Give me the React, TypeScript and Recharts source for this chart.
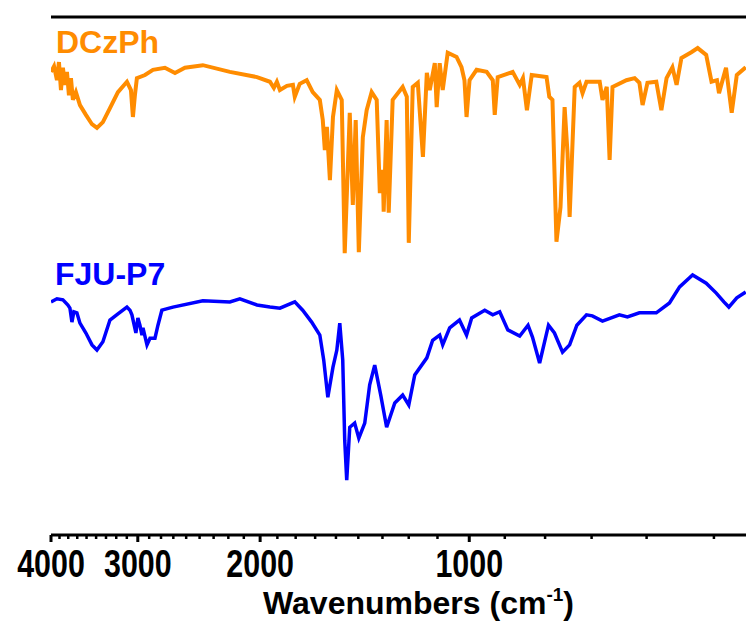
import { LineChart, Line, XAxis, YAxis, ReferenceLine } from "recharts"

// DCzPh spectrum (wavenumber in cm-1, transmittance in a.u.)
const dczphWavenumbers = [
    4000, 3960, 3922, 3896, 3870, 3845, 3820, 3794, 3769, 3744, 3720, 3683, 3634, 3563, 3492, 3435,
    3368, 3290, 3204, 3110, 3069, 3049, 3029, 3009, 2929, 2853, 2742, 2652, 2566, 2418, 2211, 2021,
    1936, 1911, 1892, 1873, 1830, 1794, 1783, 1754, 1714, 1680, 1641, 1625, 1614, 1603, 1587, 1571,
    1551, 1526, 1511, 1486, 1471, 1457, 1442, 1423, 1405, 1382, 1359, 1345, 1332, 1328, 1315, 1306,
    1289, 1247, 1230, 1222, 1206, 1186, 1166, 1151, 1140, 1121, 1114, 1103, 1092, 1074, 1043, 1026,
    1016, 1009, 999, 976, 944, 925, 919, 910, 866, 846, 837, 826, 813, 774, 767, 759,
    749, 739, 729, 722, 717, 705, 694, 687, 678, 649, 643, 634, 628, 622, 594, 578,
    569, 563, 554, 538, 529, 520, 510, 503, 495, 479, 469, 456, 448, 440, 437, 427,
    419, 412, 400,
]
const dczphValues = [
    89.4, 90.5, 87.8, 91.3, 85.9, 90.2, 86.9, 89.4, 84.9, 88.2, 84.0, 85.5, 83.0, 81.1, 79.3, 78.6,
    79.7, 82.4, 85.5, 87.5, 85.9, 80.7, 84.9, 88.2, 88.8, 89.8, 90.2, 89.2, 90.2, 90.7, 89.4, 88.4,
    87.5, 86.3, 87.5, 85.9, 86.7, 86.9, 84.6, 87.1, 87.8, 85.5, 84.0, 80.1, 74.3, 78.8, 68.5, 80.7,
    85.9, 84.0, 54.4, 81.5, 63.7, 80.1, 54.6, 76.8, 82.0, 85.5, 84.0, 66.0, 70.5, 62.4, 80.1, 62.2,
    84.0, 86.5, 84.6, 56.4, 86.5, 87.3, 73.0, 89.2, 85.9, 91.1, 82.6, 91.1, 85.9, 93.1, 92.3, 90.3,
    87.8, 80.7, 87.8, 89.8, 89.4, 87.8, 81.1, 88.4, 89.4, 86.9, 88.2, 82.0, 88.8, 88.4, 84.6, 84.0,
    56.6, 63.3, 82.6, 73.7, 61.4, 86.5, 87.3, 85.3, 87.5, 87.5, 84.0, 86.5, 72.4, 86.5, 87.8, 88.2,
    87.3, 83.0, 87.3, 87.5, 82.0, 88.2, 90.3, 86.9, 92.1, 93.2, 94.0, 92.7, 87.5, 87.8, 85.3, 90.2,
    81.5, 88.8, 90.3,
]

// FJU-P7 spectrum
const fjuWavenumbers = [
    4000, 3922, 3845, 3782, 3757, 3732, 3708, 3671, 3634, 3563, 3492, 3435, 3368, 3290, 3204, 3110,
    3079, 3059, 3019, 2999, 2979, 2959, 2949, 2910, 2881, 2834, 2806, 2770, 2670, 2418, 2211, 2139,
    2021, 1936, 1873, 1783, 1737, 1686, 1641, 1620, 1598, 1571, 1551, 1536, 1521, 1511, 1501, 1486,
    1462, 1442, 1414, 1391, 1368, 1341, 1315, 1280, 1247, 1222, 1198, 1151, 1129, 1103, 1092, 1067,
    1033, 1009, 992, 950, 925, 904, 880, 846, 823, 811, 792, 769, 754, 734, 717, 700,
    678, 665, 643, 608, 592, 569, 538, 515, 498, 477, 456, 441, 430, 423, 412, 400,
]
const fjuValues = [
    45.0, 45.6, 45.4, 44.4, 43.8, 41.1, 43.1, 42.9, 40.9, 39.0, 36.7, 35.7, 37.3, 41.5, 42.7, 44.0,
    43.4, 42.5, 39.0, 41.9, 40.5, 38.6, 40.0, 36.7, 38.0, 38.0, 40.5, 43.4, 44.0, 45.2, 45.0, 45.6,
    44.4, 44.0, 43.8, 45.0, 43.4, 41.1, 38.6, 33.8, 26.6, 32.4, 35.7, 40.9, 33.8, 18.3, 10.6, 20.8,
    21.6, 18.7, 21.6, 29.0, 32.8, 27.0, 20.8, 25.5, 27.0, 25.1, 30.9, 34.2, 37.6, 38.6, 36.7, 40.0,
    41.5, 38.6, 41.9, 43.4, 42.5, 43.1, 39.6, 38.4, 40.5, 38.2, 33.2, 40.5, 39.0, 35.3, 36.7, 40.5,
    42.5, 42.3, 41.3, 42.5, 42.1, 42.9, 42.9, 44.8, 47.9, 50.2, 48.6, 46.7, 45.0, 44.0, 45.8, 46.9,
]

const majorTicks = [4000, 3000, 2000, 1000]
// 8 minor ticks between each pair of majors (1000/9 step)
const minorTicks = Array.from({ length: 32 }, (_, i) => i + 1)
    .filter((k) => k % 9 !== 0)
    .map((k) => 4000 - (k * 1000) / 9)

const dczph = dczphWavenumbers.map((wn, i) => ({ wn, t: dczphValues[i] }))
const fju = fjuWavenumbers.map((wn, i) => ({ wn, t: fjuValues[i] }))

const FONT = "'Liberation Sans', Arial, sans-serif"

function WaveTick({ x, y, payload }: any) {
    const major = majorTicks.includes(payload.value)
    return (
        <g>
            <line
                x1={x}
                x2={x}
                y1={y}
                y2={y + (major ? 7 : 4)}
                stroke="#000"
                strokeWidth={major ? 3 : 2.5}
            />
            {major && (
                // condensed bold digits like the original
                <text
                    transform={`translate(${x},${y + 42}) scale(0.78,1)`}
                    textAnchor="middle"
                    fontFamily={FONT}
                    fontSize={39}
                    fontWeight="bold"
                    fill="#000"
                >
                    {payload.value}
                </text>
            )}
        </g>
    )
}

function AxisTitle({ viewBox }: any) {
    const { x, y, width } = viewBox
    return (
        <text
            x={x + width / 2}
            y={y + 79}
            textAnchor="middle"
            fontFamily={FONT}
            fontSize={32}
            fontWeight="bold"
            fill="#000"
        >
            Wavenumbers (cm
            <tspan fontSize={19} dy={-13}>
                -1
            </tspan>
            <tspan dy={13}>)</tspan>
        </text>
    )
}

export default function App() {
    return (
        <div
            style={{
                position: "fixed",
                left: 0,
                top: 0,
                width: 746,
                height: 624,
                overflow: "hidden",
                background: "#fff",
                fontFamily: FONT,
            }}
        >
            <LineChart width={791} height={624} margin={{ top: 17, right: 5, bottom: 0, left: 51 }}>
                <XAxis
                    dataKey="wn"
                    type="number"
                    scale="log"
                    domain={[350, 4000]}
                    reversed
                    allowDataOverflow
                    ticks={[...majorTicks, ...minorTicks]}
                    interval={0}
                    tickSize={0}
                    tickMargin={0}
                    tickLine={false}
                    tick={<WaveTick />}
                    axisLine={{ stroke: "#000", strokeWidth: 3 }}
                    height={89}
                    label={<AxisTitle />}
                />
                <YAxis
                    type="number"
                    domain={[0, 100]}
                    width={0}
                    tick={false}
                    tickLine={false}
                    axisLine={{ stroke: "#000", strokeWidth: 3 }}
                />
                <ReferenceLine y={100} stroke="#000" strokeWidth={3} />
                <Line
                    data={dczph}
                    dataKey="t"
                    type="linear"
                    stroke="#FF8C00"
                    strokeWidth={4}
                    dot={false}
                    isAnimationActive={false}
                />
                <Line
                    data={fju}
                    dataKey="t"
                    type="linear"
                    stroke="#0000FF"
                    strokeWidth={3.5}
                    dot={false}
                    isAnimationActive={false}
                />
            </LineChart>
            <div
                style={{
                    position: "absolute",
                    left: 56,
                    top: 26,
                    fontSize: 32,
                    lineHeight: "32px",
                    fontWeight: "bold",
                    color: "#FF8C00",
                }}
            >
                DCzPh
            </div>
            <div
                style={{
                    position: "absolute",
                    left: 55,
                    top: 258,
                    fontSize: 32,
                    lineHeight: "32px",
                    fontWeight: "bold",
                    color: "#0000FF",
                }}
            >
                FJU-P7
            </div>
        </div>
    )
}
